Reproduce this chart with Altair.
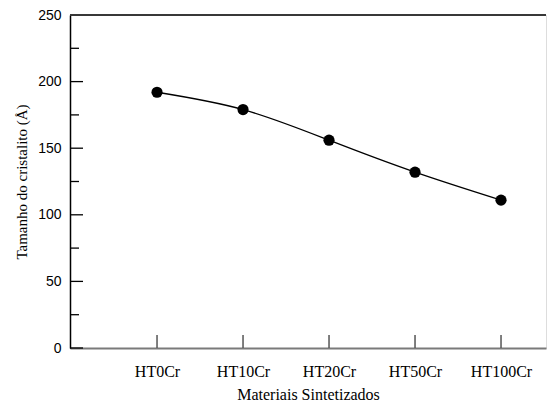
import json
import altair as alt
import pandas as pd

categories = ["HT0Cr", "HT10Cr", "HT20Cr", "HT50Cr", "HT100Cr"]
crystallite = [192, 179, 156, 132, 111]
major_ticks = [0, 50, 100, 150, 200]
minor_ticks = [25, 75, 125, 175, 225]

W, H = 476, 333

df = pd.DataFrame({"idx": list(range(len(categories))), "cat": categories, "size": crystallite})
df_major = pd.DataFrame({"v": major_ticks})
df_minor = pd.DataFrame({"v": minor_ticks})

label_expr = json.dumps(categories) + "[datum.value]"

xscale = alt.Scale(domain=[-1.012, 4.523], nice=False, zero=False)
yscale = alt.Scale(domain=[0, 250], nice=False)

x_enc = alt.X(
    "idx:Q", scale=xscale,
    axis=alt.Axis(
        values=list(range(len(categories))), labelExpr=label_expr,
        title="Materiais Sintetizados", ticks=False, grid=False,
        domainColor="#7a7a7a", domainWidth=2,
        labelFont="Liberation Serif", labelFontSize=16, labelColor="black",
        labelPadding=15, titleFont="Liberation Serif", titleFontSize=16,
        titleFontWeight="normal", titleColor="black", titlePadding=7,
    ),
)
y_enc = alt.Y(
    "size:Q", scale=yscale,
    axis=alt.Axis(
        values=[0, 50, 100, 150, 200, 250], ticks=False, grid=False,
        domainColor="black", domainWidth=1.5,
        labelFont="Liberation Sans", labelFontSize=14, labelColor="black",
        labelPadding=9, title="Tamanho do cristalito (Å)",
        titleFont="Liberation Serif", titleFontSize=15, titleFontWeight="normal",
        titleColor="black", titlePadding=8,
    ),
)

base = alt.Chart(df)

line = base.mark_line(interpolate="natural", color="black", strokeWidth=1.3).encode(x=x_enc, y=y_enc)
points = base.mark_circle(size=125, color="black", opacity=1).encode(x="idx:Q", y="size:Q")

xticks = base.mark_rule(color="#555555", strokeWidth=1.5).encode(
    x="idx:Q", y=alt.value(H - 13), y2=alt.value(H)
)
ymajor = alt.Chart(df_major).mark_rule(color="black", strokeWidth=1.3).encode(
    y="v:Q", x=alt.value(0), x2=alt.value(13)
)
yminor = alt.Chart(df_minor).mark_rule(color="black", strokeWidth=1.3).encode(
    y="v:Q", x=alt.value(0), x2=alt.value(9)
)
top = alt.Chart(df).mark_rule(color="#333333", strokeWidth=1.2).encode(
    y=alt.datum(250), x=alt.value(0), x2=alt.value(W)
)

chart = alt.layer(xticks, top, line, ymajor, yminor, points).properties(
    width=W, height=H,
    autosize=alt.AutoSizeParams(type="none"),
    padding={"left": 70, "top": 15, "right": 1, "bottom": 57},
).configure_view(stroke=None).configure(background="white")

chart.save("out.html", embed_options={"renderer": "svg", "actions": False})
